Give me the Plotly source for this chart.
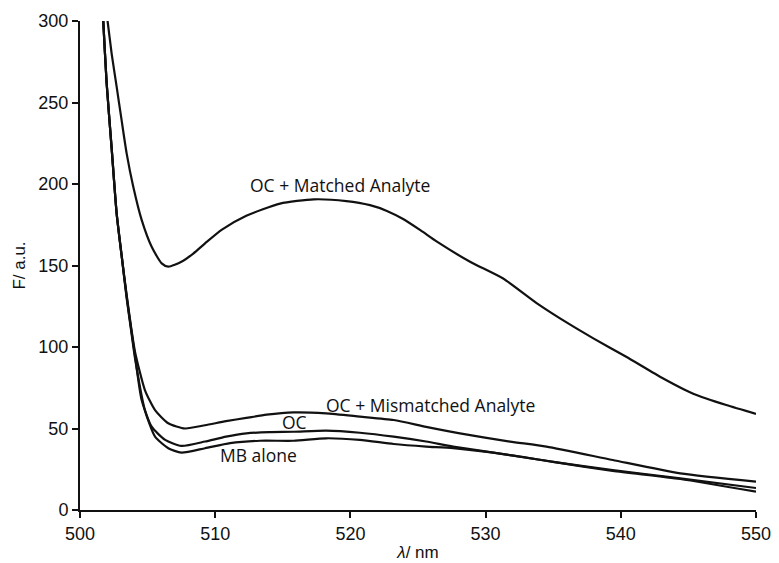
import plotly.graph_objects as go

# Wavelength (nm) and fluorescence (a.u.)
matched_x = [501.8, 502.04, 502.34, 502.71, 503.08, 503.45, 503.94, 504.56, 505.3, 506.04, 506.53,
             507.5, 508.4, 509.25, 510.5, 512.3, 514.8, 517.3, 519.7, 521.45, 522.7, 523.9, 525.2, 526.4,
             528.85, 531.3, 533.8, 536.2, 537.97, 540.4, 542.9, 545.4, 547.8, 550.0]
matched_y = [315, 300, 280, 259.7, 239, 218.8, 198.3, 178, 161.5, 151.3, 149.3,
             152.3, 157.5, 163.6, 172, 180.5, 188, 190.6, 189.5, 187, 183.5, 178.5, 171.5, 164.6,
             152.3, 142, 126.8, 114, 105.3, 94, 81.8, 71.2, 64.4, 59]

mism_x = [501.55, 501.72, 501.97, 502.34, 502.71, 503.08, 503.45, 503.8, 504.07, 504.8, 505.55, 506.53,
          507.77, 509.25, 510.8, 512.3, 513.8, 515.8, 518.2, 520.7, 523.2, 525.6, 528.1,
          531.8, 534.5, 539.4, 544.4, 550.0]
mism_y = [325, 300, 262, 222, 182, 156, 132, 111, 97, 73.6, 61.3, 53.2,
          50, 52, 54.5, 56.5, 58.5, 59.9, 59.3, 57.3, 55.2, 51, 47,
          42, 38.9, 30.7, 22.5, 17.4]

oc_x = [501.55, 501.72, 501.97, 502.34, 502.71, 503.08, 503.45, 503.8, 504.07, 504.56, 505.3, 506.3,
        507.5, 509.25, 510.8, 512.3, 514.0, 515.8, 518.2, 520.7, 523.2, 525.6, 527.6,
        531.8, 535.0, 539.4, 544.4, 550.0]
oc_y = [325, 300, 262, 222, 182, 156, 131, 110, 94.5, 67.5, 51.1, 43,
        39.3, 42, 45, 47, 47.8, 48, 48.7, 47.4, 45, 42, 38.9,
        33.7, 29.5, 24.5, 19.4, 13.5]

mb_x = [501.55, 501.72, 501.97, 502.34, 502.71, 503.08, 503.45, 503.8, 504.07, 504.8, 505.55, 506.53,
        507.5, 509.25, 511.1, 513.3, 515.8, 518.2, 520.7, 523.2, 525.6, 527.6, 531.8,
        535.0, 539.4, 544.4, 550.0]
mb_y = [325, 300, 262, 222, 182, 156, 130, 109, 93, 61.3, 45, 37.9,
        35.2, 37.9, 41, 42.5, 42.5, 44, 43, 40.5, 38.9, 37.9, 33.7,
        29.5, 24, 19, 11.2]

x_ticks = [500, 510, 520, 530, 540, 550]
y_ticks = [0, 50, 100, 150, 200, 250, 300]

labels = [
    ("OC + Matched Analyte", 519.2, 199.5),
    ("OC + Mismatched Analyte", 525.9, 64.5),
    ("OC", 515.9, 54.0),
    ("MB alone", 513.2, 33.5),
]

fig = go.Figure()
for xs, ys, name in [(matched_x, matched_y, "OC + Matched Analyte"),
                     (mism_x, mism_y, "OC + Mismatched Analyte"),
                     (oc_x, oc_y, "OC"),
                     (mb_x, mb_y, "MB alone")]:
    fig.add_trace(go.Scatter(x=xs, y=ys, mode="lines", name=name,
                             line=dict(color="#111111", width=2.2, shape="spline", smoothing=0.6)))

for text, lx, ly in labels:
    fig.add_annotation(x=lx, y=ly, text=text, showarrow=False,
                       font=dict(family="Open Sans, Noto Sans, sans-serif", size=17.5, color="#111111"))

axis_font = dict(family="Liberation Sans, Arial, sans-serif", size=18, color="#111111")
title_font = dict(family="Liberation Sans, Arial, sans-serif", size=17, color="#111111")
# The page body adds an 8px offset, so the figure is 8px smaller and its left/top margins compensate.
fig.update_layout(
    width=771, height=555,
    margin=dict(l=72, r=23, t=13, b=53, autoexpand=False),
    paper_bgcolor="white", plot_bgcolor="white",
    showlegend=False,
    xaxis=dict(range=[500, 550], tickvals=x_ticks, showgrid=False, zeroline=False,
               automargin=False,
               showline=True, linecolor="#111111", linewidth=2,
               ticks="outside", ticklen=6, tickwidth=2, tickcolor="#111111",
               tickfont=axis_font,
               title=dict(text="<i>λ</i>/ nm", font=title_font, standoff=4)),
    yaxis=dict(range=[0, 300], tickvals=y_ticks, showgrid=False, zeroline=False,
               automargin=False,
               showline=True, linecolor="#111111", linewidth=2,
               ticks="outside", ticklen=6, tickwidth=2, tickcolor="#111111",
               tickfont=axis_font,
               title=dict(text="F/ a.u.", font=title_font, standoff=8)),
)

fig.write_html("out.html")
